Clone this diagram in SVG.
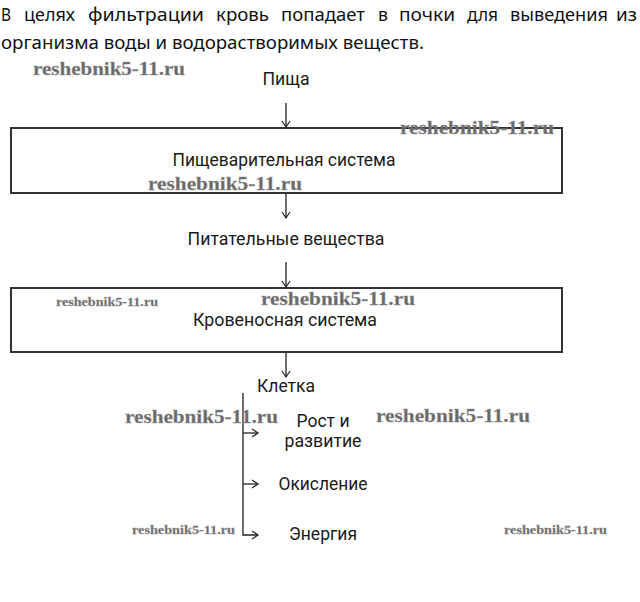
<svg xmlns="http://www.w3.org/2000/svg" width="640" height="602" viewBox="0 0 640 602">
<style>
.para{font-family:"Noto Sans","DejaVu Sans",sans-serif;font-size:18px;fill:#111}
.lbl{font-family:Roboto,"Liberation Sans",Arial,sans-serif;font-size:18px;fill:#1a1a1a}
.box{fill:#fff;stroke:#333;stroke-width:2}
.con{fill:none;stroke:#222;stroke-width:1.3}
.wm{font-family:"Liberation Serif","DejaVu Serif",serif;font-weight:bold;fill:#6a6a6a;stroke:#999;stroke-width:0.3}
.wmL{font-size:19px}
.wmS{font-size:13px}
</style>
<defs>
<marker id="ah" markerWidth="10" markerHeight="10" refX="8" refY="5" orient="auto" markerUnits="userSpaceOnUse">
<path d="M2,1 L8,5 L2,9" fill="none" stroke="#222" stroke-width="1.2"/>
</marker>
</defs>
<rect width="640" height="602" fill="#fff"/>
<g id="paragraph">
<text class="para" x="1" y="21" textLength="10" lengthAdjust="spacingAndGlyphs">В</text>
<text class="para" x="24" y="21" textLength="51" lengthAdjust="spacingAndGlyphs">целях</text>
<text class="para" x="88" y="21" textLength="116" lengthAdjust="spacingAndGlyphs">фильтрации</text>
<text class="para" x="216" y="21" textLength="53" lengthAdjust="spacingAndGlyphs">кровь</text>
<text class="para" x="281" y="21" textLength="84" lengthAdjust="spacingAndGlyphs">попадает</text>
<text class="para" x="378" y="21" textLength="10" lengthAdjust="spacingAndGlyphs">в</text>
<text class="para" x="399" y="21" textLength="56" lengthAdjust="spacingAndGlyphs">почки</text>
<text class="para" x="467" y="21" textLength="31" lengthAdjust="spacingAndGlyphs">для</text>
<text class="para" x="510" y="21" textLength="98" lengthAdjust="spacingAndGlyphs">выведения</text>
<text class="para" x="616" y="21" textLength="21" lengthAdjust="spacingAndGlyphs">из</text>
<text class="para" x="1" y="49" textLength="423" lengthAdjust="spacingAndGlyphs">организма воды и водорастворимых веществ.</text>
</g>
<g id="connectors">
<line class="con" x1="286" y1="103" x2="286" y2="127" marker-end="url(#ah)"/>
<line class="con" x1="286" y1="194" x2="286" y2="218" marker-end="url(#ah)"/>
<line class="con" x1="286" y1="262" x2="286" y2="287" marker-end="url(#ah)"/>
<line class="con" x1="286" y1="353" x2="286" y2="377" marker-end="url(#ah)"/>
<path class="con" d="M243,393 L243,535 L258,535" marker-end="url(#ah)"/>
<line class="con" x1="243" y1="433" x2="258" y2="433" marker-end="url(#ah)"/>
<line class="con" x1="243" y1="484" x2="258" y2="484" marker-end="url(#ah)"/>
</g>
<g id="food"><text class="lbl" x="286" y="85" text-anchor="middle" textLength="47" lengthAdjust="spacingAndGlyphs">Пища</text></g>
<g id="digestive">
<rect class="box" x="11" y="128" width="551" height="65"/>
<text class="lbl" x="284" y="166" text-anchor="middle" textLength="223" lengthAdjust="spacingAndGlyphs">Пищеварительная система</text>
</g>
<g id="nutrients"><text class="lbl" x="286" y="245" text-anchor="middle" textLength="197" lengthAdjust="spacingAndGlyphs">Питательные вещества</text></g>
<g id="circulatory">
<rect class="box" x="11" y="288" width="551" height="64"/>
<text class="lbl" x="285" y="326" text-anchor="middle" textLength="184" lengthAdjust="spacingAndGlyphs">Кровеносная система</text>
</g>
<g id="cell"><text class="lbl" x="286" y="392" text-anchor="middle" textLength="58" lengthAdjust="spacingAndGlyphs">Клетка</text></g>
<g id="growth">
<text class="lbl" x="323" y="427" text-anchor="middle" textLength="53" lengthAdjust="spacingAndGlyphs">Рост и</text>
<text class="lbl" x="323" y="447" text-anchor="middle" textLength="77" lengthAdjust="spacingAndGlyphs">развитие</text>
</g>
<g id="oxidation"><text class="lbl" x="323" y="490" text-anchor="middle" textLength="89" lengthAdjust="spacingAndGlyphs">Окисление</text></g>
<g id="energy"><text class="lbl" x="323" y="540" text-anchor="middle" textLength="68" lengthAdjust="spacingAndGlyphs">Энергия</text></g>
<g id="watermarks">
<text class="wm wmL" x="33" y="75" textLength="152" lengthAdjust="spacingAndGlyphs">reshebnik5-11.ru</text>
<text class="wm wmL" x="400" y="134" textLength="154" lengthAdjust="spacingAndGlyphs">reshebnik5-11.ru</text>
<text class="wm wmL" x="148" y="190" textLength="154" lengthAdjust="spacingAndGlyphs">reshebnik5-11.ru</text>
<text class="wm wmL" x="261" y="305" textLength="154" lengthAdjust="spacingAndGlyphs">reshebnik5-11.ru</text>
<text class="wm wmS" x="56" y="306" textLength="102" lengthAdjust="spacingAndGlyphs">reshebnik5-11.ru</text>
<text class="wm wmL" x="125" y="423" textLength="153" lengthAdjust="spacingAndGlyphs">reshebnik5-11.ru</text>
<text class="wm wmL" x="376" y="422" textLength="154" lengthAdjust="spacingAndGlyphs">reshebnik5-11.ru</text>
<text class="wm wmS" x="132" y="534" textLength="103" lengthAdjust="spacingAndGlyphs">reshebnik5-11.ru</text>
<text class="wm wmS" x="504" y="534" textLength="103" lengthAdjust="spacingAndGlyphs">reshebnik5-11.ru</text>
</g>
</svg>
